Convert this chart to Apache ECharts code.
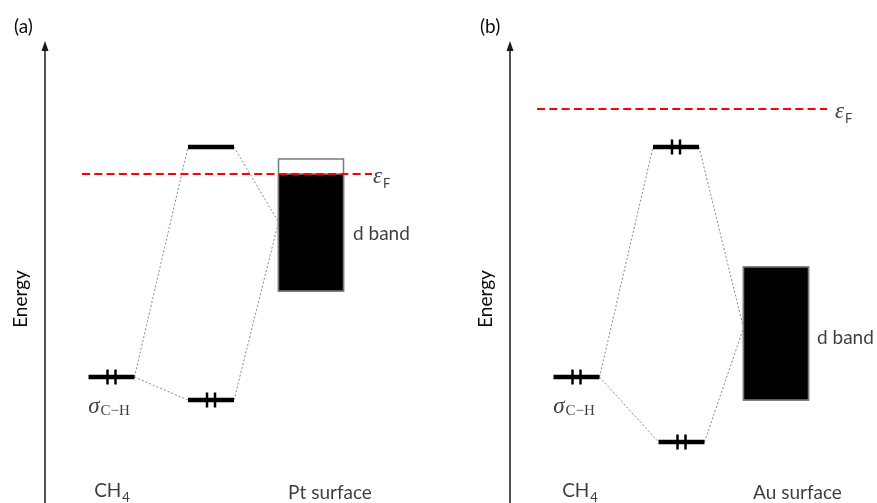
<!DOCTYPE html>
<html>
<head>
<meta charset="utf-8">
<script src="https://cdn.jsdelivr.net/npm/echarts@6/dist/echarts.min.js"></script>
<style>
  html, body { margin: 0; padding: 0; background: #ffffff; }
  #chart { width: 877px; height: 503px; }
</style>
</head>
<body>
<div id="chart"></div>
<script>
// Orbital-interaction diagrams for the C–H bond of methane on Pt and Au.
// Energies are in arbitrary units; x is the diagram column
// (free CH4 orbital, adsorbate–metal orbitals, metal d band).

// (a) CH4 on Pt
const ptLevelX = [0.665, 1.66, 1.66];
const ptLevelE = [12.6, 35.6, 10.3];
const ptElectrons = [2, 0, 2];
const ptBand = [2.66, 21.2, 34.4];      // column, bottom, top
const ptFermi = 32.9;
const ptBandJoin = 28.1;                // where the couplings meet the band
const ptCaptions = ['CH4', 'Pt surface'];

// (b) CH4 on Au
const auLevelX = [0.665, 1.66, 1.715];
const auLevelE = [12.6, 35.6, 6.1];
const auElectrons = [2, 2, 2];
const auBand = [2.66, 10.3, 23.6];
const auFermi = 39.4;
const auBandJoin = 17.5;
const auCaptions = ['CH4', 'Au surface'];

const LEVEL_HALF = 0.23;
const BAND_HALF = 0.325;
const TEXT = '#0d0d0d';
const FONT = 'Lato, "Open Sans", sans-serif';
const SERIF = '"Liberation Serif", serif';
const FS = 19;

// rich-text styles; tokens are top-aligned and subscripts pushed down with padding
const rich = {
  txt:  { fontFamily: FONT, fontSize: FS, color: TEXT, verticalAlign: 'top' },
  sub:  { fontFamily: FONT, fontSize: 13, color: TEXT, verticalAlign: 'top', padding: [10, 0, 0, 1] },
  sym:  { fontFamily: SERIF, fontStyle: 'italic', fontSize: 23, color: TEXT, verticalAlign: 'top' },
  ssub: { fontFamily: SERIF, fontSize: 15, color: TEXT, verticalAlign: 'top', padding: [9, 0, 0, 1] },
  fsub: { fontFamily: FONT, fontSize: 13, color: TEXT, verticalAlign: 'top', padding: [12, 0, 0, 1] }
};

function caption(text) {
  // "CH4" gets a subscript 4
  const m = text.match(/^CH(\d)$/);
  return m ? '{txt|CH}{sub|' + m[1] + '}' : '{txt|' + text + '}';
}

function renderLevel(params, api) {
  const x = api.value(0), e = api.value(1), n = api.value(2);
  const a = api.coord([x - LEVEL_HALF, e]);
  const b = api.coord([x + LEVEL_HALF, e]);
  const children = [{
    type: 'line',
    shape: { x1: a[0], y1: a[1], x2: b[0], y2: b[1] },
    style: { stroke: '#000', lineWidth: 4.5 }
  }];
  if (n === 2) {
    const c = (a[0] + b[0]) / 2;
    [-4, 4].forEach(function (d) {
      children.push({
        type: 'line',
        shape: { x1: c + d, y1: a[1] - 7.5, x2: c + d, y2: a[1] + 7.5 },
        style: { stroke: '#000', lineWidth: 2.5 }
      });
    });
  }
  return { type: 'group', children: children };
}

function renderBand(params, api) {
  const x = api.value(0), lo = api.value(1), hi = api.value(2), fermi = api.value(3);
  const tl = api.coord([x - BAND_HALF, hi]);
  const br = api.coord([x + BAND_HALF, lo]);
  const filled = api.coord([x - BAND_HALF, Math.min(hi, fermi)]);
  return {
    type: 'group',
    children: [
      { type: 'rect', shape: { x: tl[0], y: tl[1], width: br[0] - tl[0], height: br[1] - tl[1] },
        style: { fill: '#fff', stroke: '#7a7a7a', lineWidth: 1.5 } },
      { type: 'rect', shape: { x: filled[0], y: filled[1], width: br[0] - tl[0], height: br[1] - filled[1] },
        style: { fill: '#000', stroke: '#7a7a7a', lineWidth: 1.5 } }
    ]
  };
}

function panelSeries(idx, levelX, levelE, electrons, band, fermi, join, fermiSpan, labelPos) {
  const levels = levelX.map(function (x, i) { return [x, levelE[i], electrons[i]]; });
  const ch4Right = [levelX[0] + LEVEL_HALF, levelE[0]];
  const bandLeft = [band[0] - BAND_HALF, join];
  const couplings = [1, 2].map(function (i) {
    return [
      { coords: [ch4Right, [levelX[i] - LEVEL_HALF, levelE[i]]] },
      { coords: [[levelX[i] + LEVEL_HALF, levelE[i]], bandLeft] }
    ];
  }).flat();
  const captions = idx === 0 ? ptCaptions : auCaptions;
  const labels = [
    { value: labelPos.sigma, label: { position: 'inside', formatter: '{sym|σ}{ssub|C−H}' } },
    { value: [labelPos.eps[0], fermi], label: { position: 'right', distance: 0, offset: [0, 4], formatter: '{sym|ε}{fsub|F}' } },
    { value: labelPos.dband, label: { position: 'right', distance: 0, formatter: '{txt|d band}' } },
    { value: labelPos.cap0, label: { position: 'inside', formatter: caption(captions[0]) } },
    { value: labelPos.cap1, label: { position: 'inside', formatter: caption(captions[1]) } }
  ];
  return [
    { type: 'lines', coordinateSystem: 'cartesian2d', xAxisIndex: idx, yAxisIndex: idx, z: 1,
      polyline: false, silent: true,
      lineStyle: { color: '#8a8a8a', width: 1, type: [2, 2], opacity: 1 },
      data: couplings },
    { type: 'custom', xAxisIndex: idx, yAxisIndex: idx, z: 2, silent: true,
      renderItem: renderBand, data: [[band[0], band[1], band[2], fermi]] },
    { type: 'custom', xAxisIndex: idx, yAxisIndex: idx, z: 3, silent: true,
      renderItem: renderLevel, data: levels },
    { type: 'line', xAxisIndex: idx, yAxisIndex: idx, z: 4, silent: true, showSymbol: false,
      lineStyle: { color: '#ff0000', width: 1.9, type: [8, 4.3] },
      data: [[fermiSpan[0], fermi], [fermiSpan[1], fermi]] },
    { type: 'scatter', xAxisIndex: idx, yAxisIndex: idx, z: 5, silent: true, symbolSize: 0,
      label: { show: true, rich: rich, color: TEXT },
      data: labels }
  ];
}

const axisY = {
  type: 'value', min: 0, max: 45.7,
  axisLine: { show: true, symbol: ['none', 'triangle'], symbolSize: [7, 10],
              lineStyle: { color: '#1a1a1a', width: 1.5 } },
  axisTick: { show: false }, axisLabel: { show: false }, splitLine: { show: false }
};

const chart = echarts.init(document.getElementById('chart'), null, { renderer: 'canvas' });
chart.setOption({
  backgroundColor: '#ffffff',
  animation: false,
  title: [
    { text: '(a)', left: 9, top: 12, textStyle: { fontFamily: FONT, fontWeight: 'normal', fontSize: FS, color: TEXT } },
    { text: '(b)', left: 475, top: 12, textStyle: { fontFamily: FONT, fontWeight: 'normal', fontSize: FS, color: TEXT } }
  ],
  graphic: [
    { type: 'text', x: 21, y: 299, rotation: Math.PI / 2,
      style: { text: 'Energy', font: FS + 'px ' + FONT, fill: TEXT, align: 'center', verticalAlign: 'middle' } },
    { type: 'text', x: 486, y: 299, rotation: Math.PI / 2,
      style: { text: 'Energy', font: FS + 'px ' + FONT, fill: TEXT, align: 'center', verticalAlign: 'middle' } }
  ],
  grid: [
    { left: 45, top: 46, width: 400, bottom: 0 },
    { left: 510, top: 46, width: 360, bottom: 0 }
  ],
  xAxis: [
    { type: 'value', gridIndex: 0, min: 0, max: 4, show: false },
    { type: 'value', gridIndex: 1, min: 0, max: 3.6, show: false }
  ],
  yAxis: [
    Object.assign({ gridIndex: 0 }, axisY),
    Object.assign({ gridIndex: 1 }, axisY)
  ],
  series: [].concat(
    panelSeries(0, ptLevelX, ptLevelE, ptElectrons, ptBand, ptFermi, ptBandJoin, [0.37, 3.27],
      { sigma: [0.64, 9.6], eps: [3.28], dband: [3.08, 26.9], cap0: [0.67, 1.0], cap1: [2.85, 1.0] }),
    panelSeries(1, auLevelX, auLevelE, auElectrons, auBand, auFermi, auBandJoin, [0.27, 3.17],
      { sigma: [0.64, 9.6], eps: [3.25], dband: [3.07, 16.5], cap0: [0.70, 1.0], cap1: [2.875, 1.0] })
  )
});
</script>
</body>
</html>
